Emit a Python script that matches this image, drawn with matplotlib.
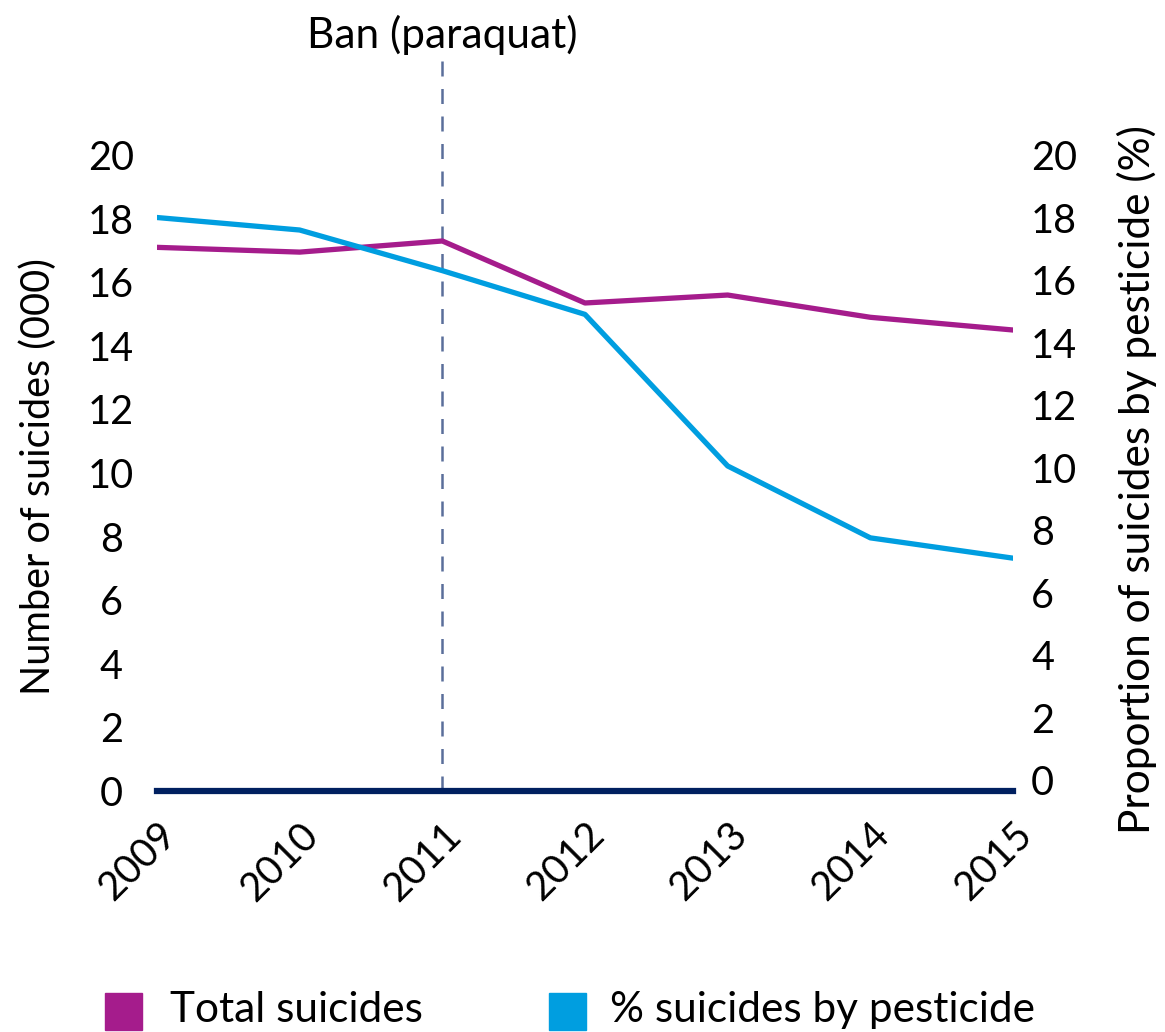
import matplotlib.pyplot as plt
import matplotlib.transforms as mtransforms
from matplotlib.patches import Rectangle

# data
years = [2009, 2010, 2011, 2012, 2013, 2014, 2015]
total_suicides = [17.1, 16.95, 17.3, 15.35, 15.6, 14.9, 14.5]
pct_pesticide = [18.0, 17.6, 16.3, 14.9, 10.05, 7.75, 7.1]
ban_year = 2011
ban_label = 'Ban (paraquat)'
yticks = list(range(0, 21, 2))

purple = '#a51c8c'
blue = '#009ee0'
navy = '#002060'

plt.rcParams['font.family'] = ['Lato', 'DejaVu Sans']

fig = plt.figure(figsize=(11.65, 10.32), dpi=100)
W, H = 1165, 1032
ax = fig.add_axes([157 / W, 1 - 791 / H, (1013 - 157) / W, (791 - 55) / H])
ax2 = ax.twinx()

ax.plot(years, total_suicides, color=purple, lw=3.8, zorder=3)
ax2.plot(years, pct_pesticide, color=blue, lw=3.8, zorder=3)
ax.axvline(ban_year, color='#5a6e9a', lw=1.8, ls=(0, (6, 5)), zorder=1)
ax.axhline(0, color=navy, lw=4.5, zorder=4, clip_on=False)

ax.set_xlim(2009, 2015)
ax.set_ylim(0, 23.15)
ax2.set_ylim(-0.35, 23.2)

ax.set_yticks(yticks)
ax2.set_yticks(yticks)
ax.set_xticks(years)
ax.set_xticklabels([str(y) for y in years], rotation=45, ha='right',
                   rotation_mode='anchor')
shift = mtransforms.ScaledTranslation(-6 / 100, 0, fig.dpi_scale_trans)
for lab in ax.get_xticklabels():
    lab.set_transform(lab.get_transform() + shift)

for a in (ax, ax2):
    for s in a.spines.values():
        s.set_visible(False)
    a.tick_params(length=0, labelsize=28.5)
ax.tick_params(axis='y', pad=33)
for lab in ax.get_yticklabels():
    lab.set_ha('center')
ax.tick_params(axis='x', pad=18)
ax2.tick_params(axis='y', pad=13)

ax.set_ylabel('Number of suicides (000)', fontsize=28.5)
ax.yaxis.set_label_coords(-100 / 856, (791 - 477) / 736)
ax2.set_ylabel('Proportion of suicides by pesticide (%)', fontsize=30.5)
ax2.yaxis.set_label_coords(1 + 104 / 856, (791 - 480) / 736)

ax.text(ban_year, 1.0, ban_label, transform=ax.get_xaxis_transform(),
        ha='center', va='bottom', fontsize=30.5)

# legend
fig.patches.append(Rectangle((105 / W, 1 - 1030 / H), 37 / W, 37 / H,
                             color=purple, transform=fig.transFigure))
fig.text(170 / W, 1 - 1010 / H, 'Total suicides', fontsize=30.5,
         va='center')
fig.patches.append(Rectangle((549 / W, 1 - 1030 / H), 37 / W, 37 / H,
                             color=blue, transform=fig.transFigure))
fig.text(610 / W, 1 - 1010 / H, '% suicides by pesticide', fontsize=30.5,
         va='center')

fig.savefig('out.png', dpi=100)
